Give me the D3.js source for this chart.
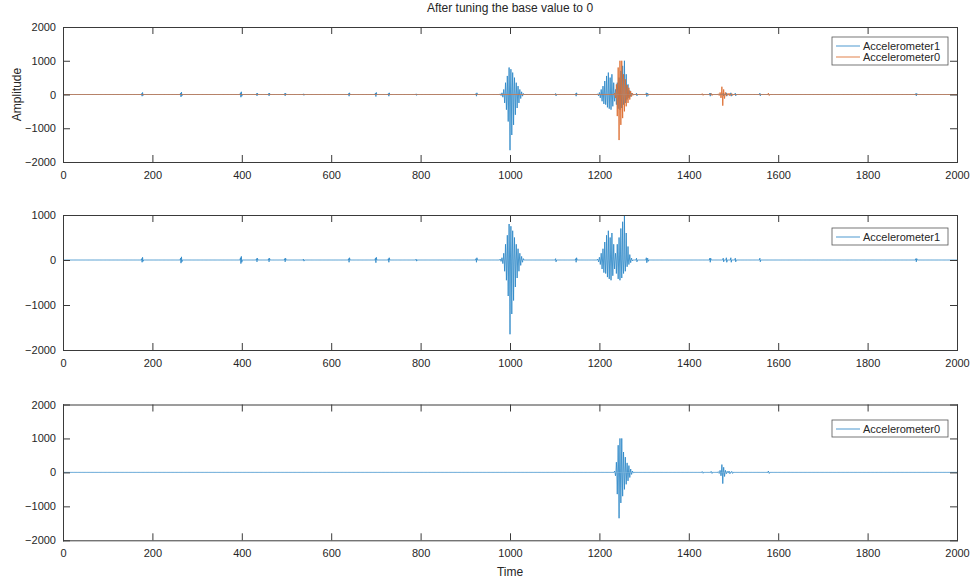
<!DOCTYPE html>
<html><head><meta charset="utf-8">
<script src="https://cdn.jsdelivr.net/npm/d3@7"></script>
<style>
body{margin:0;background:#fff}
text{font-family:"Liberation Sans",Arial,sans-serif;fill:#262626}
</style>
</head><body>
<svg id="c" width="973" height="579"></svg>
<script>
// ---------------- data ----------------
const titleText = "After tuning the base value to 0";
const xLabel = "Time";
const yLabel = "Amplitude";
const seriesNames = ["Accelerometer1", "Accelerometer0"];
const xDomain = [0, 2000];
const xTicks = [0, 200, 400, 600, 800, 1000, 1200, 1400, 1600, 1800, 2000];
const yDomainTop = [-2000, 2000];
const yDomainMid = [-2000, 1000];
const yDomainBot = [-2000, 2000];
const yTicksTop = [-2000, -1000, 0, 1000, 2000];
const yTicksMid = [-2000, -1000, 0, 1000];
const yTicksBot = [-2000, -1000, 0, 1000, 2000];

// non-zero samples [time, amplitude]; all other samples are at the tuned base value 0
const acc1Events = [
  [176,30],[177,-50],[178,60],[179,-30],
  [263,40],[264,-70],[265,70],[266,-40],
  [397,50],[398,-80],[399,80],[400,-50],
  [433,30],[434,-40],[435,40],
  [460,30],[461,-40],[462,40],
  [496,30],[497,-40],[498,40],
  [538,20],[539,-25],
  [639,30],[640,-50],[641,50],
  [699,40],[700,-60],[701,60],
  [728,30],[729,-50],[730,50],
  [790,20],[791,-25],
  [924,30],[925,-50],[926,50],
  [978,20],[980,-30],[982,50],[984,-80],[986,150],[988,-250],[990,350],[992,-450],
  [994,550],[996,-800],[998,800],[1000,-1650],[1002,750],[1004,-1200],[1006,650],
  [1008,-900],[1010,500],[1012,-600],[1014,350],[1016,-400],[1018,250],[1020,-250],
  [1022,150],[1024,-120],[1026,80],[1028,-50],[1030,30],
  [1102,30],[1103,-40],
  [1147,30],[1148,-50],[1149,50],
  [1196,20],[1198,-40],[1200,60],[1202,-100],[1204,150],[1206,-200],[1208,250],
  [1210,-280],[1212,400],[1214,-300],[1216,550],[1218,-380],[1220,650],[1222,-420],
  [1224,500],[1226,-450],[1228,600],[1230,-350],[1232,350],[1234,-200],[1236,150],
  [1238,-300],[1240,350],[1242,-420],[1244,500],[1246,-450],[1248,700],[1250,-400],
  [1252,850],[1254,-300],[1256,1000],[1258,-250],[1260,600],[1262,-150],[1264,300],
  [1266,-100],[1268,120],[1270,-60],[1272,40],[1274,-20],
  [1283,40],[1284,-40],
  [1305,50],[1306,-60],[1308,40],[1309,-30],
  [1447,40],[1448,-50],[1449,40],
  [1477,40],[1478,-40],[1484,50],[1485,-50],[1494,50],[1495,-50],[1504,40],[1505,-40],
  [1559,40],[1560,-40],
  [1908,30],[1909,-40],[1910,30]
];

const acc0Events = [
  [1234,40],[1236,-100],[1238,300],[1240,-640],[1242,800],[1244,-1350],[1246,1000],
  [1248,-900],[1250,1000],[1252,-700],[1254,600],[1256,-500],[1258,450],[1260,-350],
  [1262,280],[1264,-250],[1266,200],[1268,-150],[1270,100],[1272,-60],[1274,40],[1276,-20],
  [1430,25],[1432,-25],[1450,30],[1452,-30],
  [1466,20],[1468,-30],[1470,60],[1472,-100],[1474,230],[1476,-330],[1478,150],
  [1480,-120],[1482,60],[1484,-40],[1486,30],[1488,-20],
  [1490,40],[1492,-40],[1496,30],[1498,-30],
  [1578,40],[1580,-30]
];

// ---------------- drawing ----------------
const colors = ["#2d88c8", "#dc6a2c"];
const W = 973, H = 579;
const svg = d3.select("#c");
svg.append("rect").attr("width", W).attr("height", H).attr("fill", "#fff");

function buildSeries(events) {
  const s = d3.range(xDomain[0], xDomain[1] + 1).map(t => ({t, v: 0}));
  events.forEach(([t, v]) => { s[t - xDomain[0]].v = v; });
  return s;
}
const acc1 = buildSeries(acc1Events);
const acc0 = buildSeries(acc0Events);

const left = 63, right = 957;
const x = d3.scaleLinear().domain(xDomain).range([left, right]);

const panels = [
  {top: 27, bottom: 162, yd: yDomainTop, yt: yTicksTop, series: [[acc1, 0], [acc0, 1]],
   legend: {y: 37, rows: [0, 1]}},
  {top: 215, bottom: 350, yd: yDomainMid, yt: yTicksMid, series: [[acc1, 0]],
   legend: {y: 228, rows: [0]}},
  {top: 404.5, bottom: 540.3, yd: yDomainBot, yt: yTicksBot, series: [[acc0, 0]],
   legend: {y: 420, rows: [1]}, nameIdx: 1}
];

const axisColor = "#3a3a3a";

panels.forEach((p, i) => {
  const y = d3.scaleLinear().domain(p.yd).range([p.bottom, p.top]);
  const g = svg.append("g");
  const clipId = "clip" + i;
  svg.append("clipPath").attr("id", clipId).append("rect")
    .attr("x", left).attr("y", p.top).attr("width", right - left).attr("height", p.bottom - p.top);

  const line = d3.line().x(d => x(d.t)).y(d => y(d.v));
  p.series.forEach(([s, ci], k) => {
    const colorIdx = (i === 2) ? 0 : ci;
    g.append("path").datum(s).attr("clip-path", `url(#${clipId})`)
      .attr("fill", "none").attr("stroke", colors[colorIdx]).attr("stroke-width", 0.85)
      .attr("d", line);
  });

  const styleAxis = sel => {
    sel.selectAll(".domain").attr("stroke", axisColor).attr("stroke-width", 1);
    sel.selectAll(".tick line").attr("stroke", axisColor).attr("stroke-width", 1);
    sel.selectAll("text").attr("font-size", 11).attr("fill", "#262626")
      .style("font-family", '"Liberation Sans", Arial, sans-serif');
  };
  g.append("g").attr("transform", `translate(0,${p.bottom})`)
    .call(d3.axisBottom(x).tickValues(xTicks).tickFormat(d3.format("d")).tickSize(-7).tickSizeOuter(0).tickPadding(9))
    .call(styleAxis);
  g.append("g").attr("transform", `translate(0,${p.top})`)
    .call(d3.axisTop(x).tickValues(xTicks).tickFormat("").tickSize(-7).tickSizeOuter(0))
    .call(styleAxis);
  g.append("g").attr("transform", `translate(${left},0)`)
    .call(d3.axisLeft(y).tickValues(p.yt).tickFormat(d3.format("d")).tickSize(-7).tickSizeOuter(0).tickPadding(7))
    .call(styleAxis);
  g.append("g").attr("transform", `translate(${right},0)`)
    .call(d3.axisRight(y).tickValues(p.yt).tickFormat("").tickSize(-7).tickSizeOuter(0))
    .call(styleAxis);
  g.selectAll(".domain").attr("stroke-linecap", "square");

  // legend
  const rowH = 11;
  const lg = svg.append("g");
  const lx = 832, lw = 116;
  const lh = p.legend.rows.length * rowH + 6;
  lg.append("rect").attr("x", lx).attr("y", p.legend.y).attr("width", lw).attr("height", lh)
    .attr("fill", "#fff").attr("stroke", "#555").attr("stroke-width", 0.8);
  p.legend.rows.forEach((ni, r) => {
    const cy = p.legend.y + 3 + rowH * r + rowH / 2 + 0.5;
    const colorIdx = (i === 2) ? 0 : ni;
    lg.append("line").attr("x1", lx + 4).attr("x2", lx + 28).attr("y1", cy).attr("y2", cy)
      .attr("stroke", colors[colorIdx]).attr("stroke-width", 0.85);
    lg.append("text").attr("x", lx + 31).attr("y", cy).attr("dy", "0.35em")
      .attr("font-size", 11).text(seriesNames[ni]);
  });
});

svg.append("text").attr("x", (left + right) / 2).attr("y", 12).attr("text-anchor", "middle")
  .attr("font-size", 12).text(titleText);
svg.append("text").attr("x", (left + right) / 2).attr("y", 576).attr("text-anchor", "middle")
  .attr("font-size", 12).text(xLabel);
svg.append("text").attr("transform", "translate(21,94.5) rotate(-90)").attr("text-anchor", "middle")
  .attr("font-size", 12).text(yLabel);
</script>
</body></html>
